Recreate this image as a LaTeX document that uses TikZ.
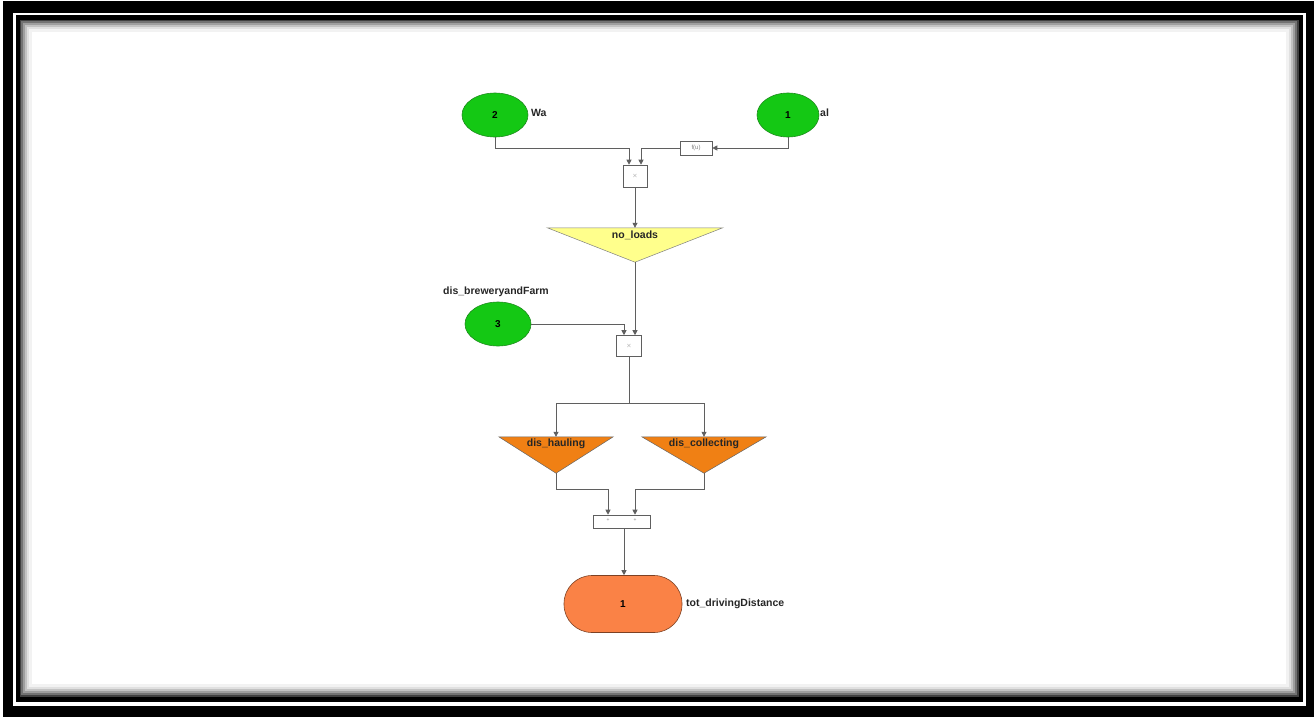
\documentclass[tikz,border=0pt]{standalone}
\usepackage{fontspec}
\setmainfont{Liberation Sans}
\usetikzlibrary{shapes.geometric,arrows.meta,calc}
\definecolor{wiregray}{RGB}{95,95,95}
\definecolor{ingreen}{RGB}{20,200,20}
\definecolor{ingreenb}{RGB}{30,140,30}
\definecolor{noyellow}{RGB}{255,255,140}
\definecolor{triorange}{RGB}{240,128,20}
\definecolor{outorange}{RGB}{250,130,70}
\tikzset{
  wire/.style={draw=wiregray, line width=0.8pt},
  arr/.style={-{Triangle[length=5pt,width=5pt]}},
  inport/.style={ellipse, fill=ingreen, draw=ingreenb, line width=0.6pt, minimum width=66pt, minimum height=44pt, inner sep=0pt, font=\bfseries\fontsize{10}{11}\selectfont},
  opbox/.style={rectangle, draw=wiregray, fill=white, line width=0.6pt, inner sep=0pt, font=\fontsize{6}{7}\selectfont\color{gray}},
  trianchor/.style={rectangle, inner sep=0pt},
  lbl/.style={font=\bfseries\fontsize{10.5}{12}\selectfont, text=black!85, inner sep=0pt},
}
\begin{document}
\begin{tikzpicture}[x=1pt,y=-1pt]
\useasboundingbox (0,0) rectangle (1314,717);
\fill[white] (0,0) rectangle (1314,717);
% frame
\fill[black] (3,1) rectangle (1314,717);
\fill[white] (13,13) rectangle (1306,706);
\fill[black] (16,15) rectangle (1303,702);
\fill[black!75] (20,20) rectangle (1299,697);
\fill[black!55] (21,21) rectangle (1297,695);
\fill[black!38] (23,23) rectangle (1295,693);
\fill[black!24] (25,25) rectangle (1293,691);
\fill[black!12] (27,27) rectangle (1291,689);
\fill[black!5] (29,29) rectangle (1289,687);
\fill[white] (32,32) rectangle (1286,684);

% nodes
\node[inport] (wa) at (495,115) {2};
\node[lbl, anchor=west] (walbl) at (531,113) {Wa};
\node[inport, minimum width=62pt] (al) at (788,115) {1};
\node[lbl, anchor=west] (allbl) at (820,113) {al};
\node[opbox, minimum width=32pt, minimum height=14pt] (fu) at (696,148) {f(u)};
\node[opbox, minimum width=24pt, minimum height=22pt] (m1) at (635,176) {$\times$};

\node[trianchor, minimum width=175pt, minimum height=34pt] (noloads) at (635,245) {};
\fill[noyellow, draw=black!50, line width=0.5pt] (noloads.north west) -- (noloads.north east) -- (noloads.south) -- cycle;
\node[lbl] (noloadslbl) at ($(noloads.north)+(0,8)$) {no\_loads};

\node[inport] (dist) at (498,324) {3};
\node[lbl] (distlbl) at (496,292) {dis\_breweryandFarm};
\node[opbox, minimum width=25pt, minimum height=21pt] (m2) at (629,346) {$\times$};
\coordinate (split) at (629,403);

\node[trianchor, minimum width=114pt, minimum height=36pt] (haul) at (556,455) {};
\fill[triorange, draw=black!60, line width=0.5pt] (haul.north west) -- (haul.north east) -- (haul.south) -- cycle;
\node[lbl] (haullbl) at ($(haul.north)+(0,7)$) {dis\_hauling};

\node[trianchor, minimum width=124pt, minimum height=36pt] (coll) at (704,455) {};
\fill[triorange, draw=black!60, line width=0.5pt] (coll.north west) -- (coll.north east) -- (coll.south) -- cycle;
\node[lbl] (colllbl) at ($(coll.north)+(0,7)$) {dis\_collecting};

\node[opbox, minimum width=57pt, minimum height=13pt] (sum) at (622,521.5) {};
\node[font=\fontsize{5}{6}\selectfont\color{gray}, inner sep=0pt] (p1) at ($(sum.center)+(-14,-1)$) {+};
\node[font=\fontsize{5}{6}\selectfont\color{gray}, inner sep=0pt] (p2) at ($(sum.center)+(13,-1)$) {+};

\node[rectangle, rounded corners=28pt, fill=outorange, draw=black!50!outorange, line width=0.6pt, minimum width=118pt, minimum height=57pt, inner sep=0pt, font=\bfseries\fontsize{10}{11}\selectfont] (tot) at (623,604) {1};
\node[lbl, anchor=west] (totlbl) at (686,604) {tot\_drivingDistance};

% connectors
\draw[wire, arr] (wa.south) -- ++(0,11) -| ([xshift=-6pt]m1.north);
\draw[wire, arr] (al.south) |- (fu.east);
\draw[wire, arr] (fu.west) -| ([xshift=6pt]m1.north);
\draw[wire, arr] (m1.south) -- (noloads.north);
\draw[wire, arr] (noloads.south) -- (noloads.south |- m2.north);
\draw[wire, arr] (dist.east) -| ([xshift=-5pt]m2.north);
\draw[wire] (m2.south) -- (split);
\draw[wire, arr] (split) -| (haul.north);
\draw[wire, arr] (split) -| (coll.north);
\draw[wire, arr] (haul.south) -- ++(0,16) -| (p1.north |- sum.north);
\draw[wire, arr] (coll.south) -- ++(0,16) -| (p2.north |- sum.north);
\draw[wire, arr] ([xshift=2pt]sum.south) -- ([xshift=2pt]sum.south |- tot.north);
\end{tikzpicture}
\end{document}
